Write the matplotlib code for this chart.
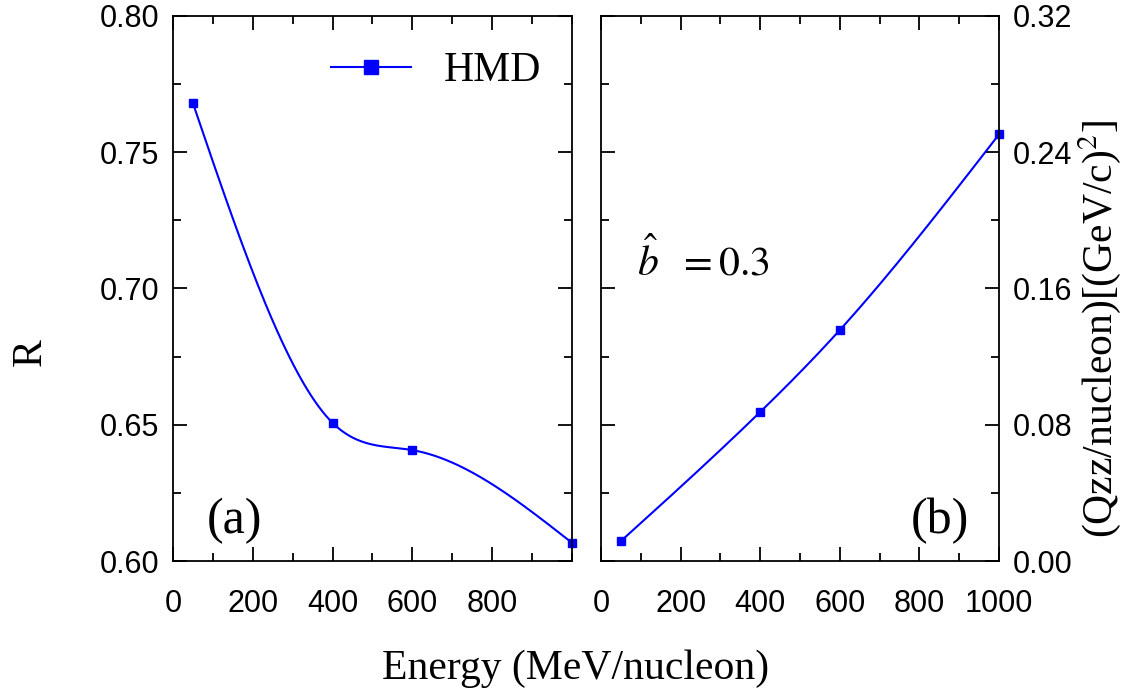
import numpy as np
import matplotlib
matplotlib.use("Agg")
import matplotlib.pyplot as plt
from matplotlib.ticker import MultipleLocator

# data
energy = [50, 400, 600, 1000]
r_hmd = [0.768, 0.6507, 0.6407, 0.6067]
qzz_hmd = [0.0117, 0.0875, 0.1356, 0.2505]


def natural_spline(x, y, n=200):
    # natural cubic spline through the points, only for a smooth line
    x = np.asarray(x, float)
    y = np.asarray(y, float)
    k = len(x)
    h = np.diff(x)
    a = np.zeros((k, k))
    b = np.zeros(k)
    a[0, 0] = a[-1, -1] = 1.0
    for i in range(1, k - 1):
        a[i, i - 1] = h[i - 1]
        a[i, i] = 2 * (h[i - 1] + h[i])
        a[i, i + 1] = h[i]
        b[i] = 3 * ((y[i + 1] - y[i]) / h[i] - (y[i] - y[i - 1]) / h[i - 1])
    c = np.linalg.solve(a, b)
    xs = np.linspace(x[0], x[-1], n)
    idx = np.clip(np.searchsorted(x, xs) - 1, 0, k - 2)
    dx = xs - x[idx]
    bb = (y[idx + 1] - y[idx]) / h[idx] - h[idx] * (2 * c[idx] + c[idx + 1]) / 3
    dd = (c[idx + 1] - c[idx]) / (3 * h[idx])
    ys = y[idx] + bb * dx + c[idx] * dx ** 2 + dd * dx ** 3
    return xs, ys


plt.rcParams["font.family"] = ["Liberation Sans", "DejaVu Sans"]
plt.rcParams["mathtext.fontset"] = "stix"

fig = plt.figure(figsize=(11.35, 6.94), dpi=100)
ax1 = fig.add_axes([0.1524, 0.1916, 0.3515, 0.7854])
ax2 = fig.add_axes([0.5295, 0.1916, 0.3507, 0.7854])

blue = "#0000ff"
serif = ["Liberation Serif", "DejaVu Serif"]

for ax in (ax1, ax2):
    ax.set_xlim(0, 1000)
    ax.xaxis.set_major_locator(MultipleLocator(200))
    ax.xaxis.set_minor_locator(MultipleLocator(100))
    ax.tick_params(which="both", direction="in", top=True, right=True,
                   width=1.3, labelsize=22, pad=10)
    ax.tick_params(axis="x", pad=20)
    ax.tick_params(which="major", length=10)
    ax.tick_params(which="minor", length=5.5)
    for s in ax.spines.values():
        s.set_linewidth(1.3)

# (a) R
xs, ys = natural_spline(energy, r_hmd)
ax1.plot(xs, ys, color=blue, lw=1.5)
ax1.plot(energy, r_hmd, "s", color=blue, ms=6, clip_on=False)
ax1.plot([], [], "-s", color=blue, lw=1.5, ms=10, label="HMD")
ax1.set_ylim(0.60, 0.80)
ax1.yaxis.set_major_locator(MultipleLocator(0.05))
ax1.yaxis.set_minor_locator(MultipleLocator(0.025))
ax1.yaxis.set_major_formatter(lambda v, p: f"{v:.2f}")
ax1.set_xticks([0, 200, 400, 600, 800])
ax1.legend(loc="upper right", frameon=False, prop={"family": serif, "size": 30},
           handlelength=1.9, handletextpad=0.8, borderaxespad=0.0,
           bbox_to_anchor=(0.965, 0.965))
ax1.text(0.153, 0.073, "(a)", transform=ax1.transAxes, family=serif,
         fontsize=36, ha="center", va="center")

# (b) Qzz
xs, ys = natural_spline(energy, qzz_hmd)
ax2.plot(xs, ys, color=blue, lw=1.5)
ax2.plot(energy, qzz_hmd, "s", color=blue, ms=6, clip_on=False)
ax2.set_ylim(0, 0.32)
ax2.yaxis.set_major_locator(MultipleLocator(0.08))
ax2.yaxis.set_minor_locator(MultipleLocator(0.04))
ax2.yaxis.set_major_formatter(lambda v, p: f"{v:.2f}")
ax2.tick_params(axis="y", labelleft=False, labelright=True)
ax2.text(0.09, 0.549, r"$\hat{b}\ \ = 0.3$", transform=ax2.transAxes,
         fontsize=30, va="center")
ax2.text(0.852, 0.073, "(b)", transform=ax2.transAxes, family=serif,
         fontsize=36, ha="center", va="center")

fig.text(0.027, 0.493, "R", family=serif, fontsize=30, rotation=90,
         ha="center", va="center")
fig.text(0.969, 0.526, r"(Qzz/nucleon)[(GeV/c)$^2$]", family=serif,
         fontsize=30, rotation=90, ha="center", va="center")
fig.text(0.507, 0.037, "Energy (MeV/nucleon)", family=serif, fontsize=30,
         ha="center", va="center")

fig.savefig("out.png", dpi=100)
